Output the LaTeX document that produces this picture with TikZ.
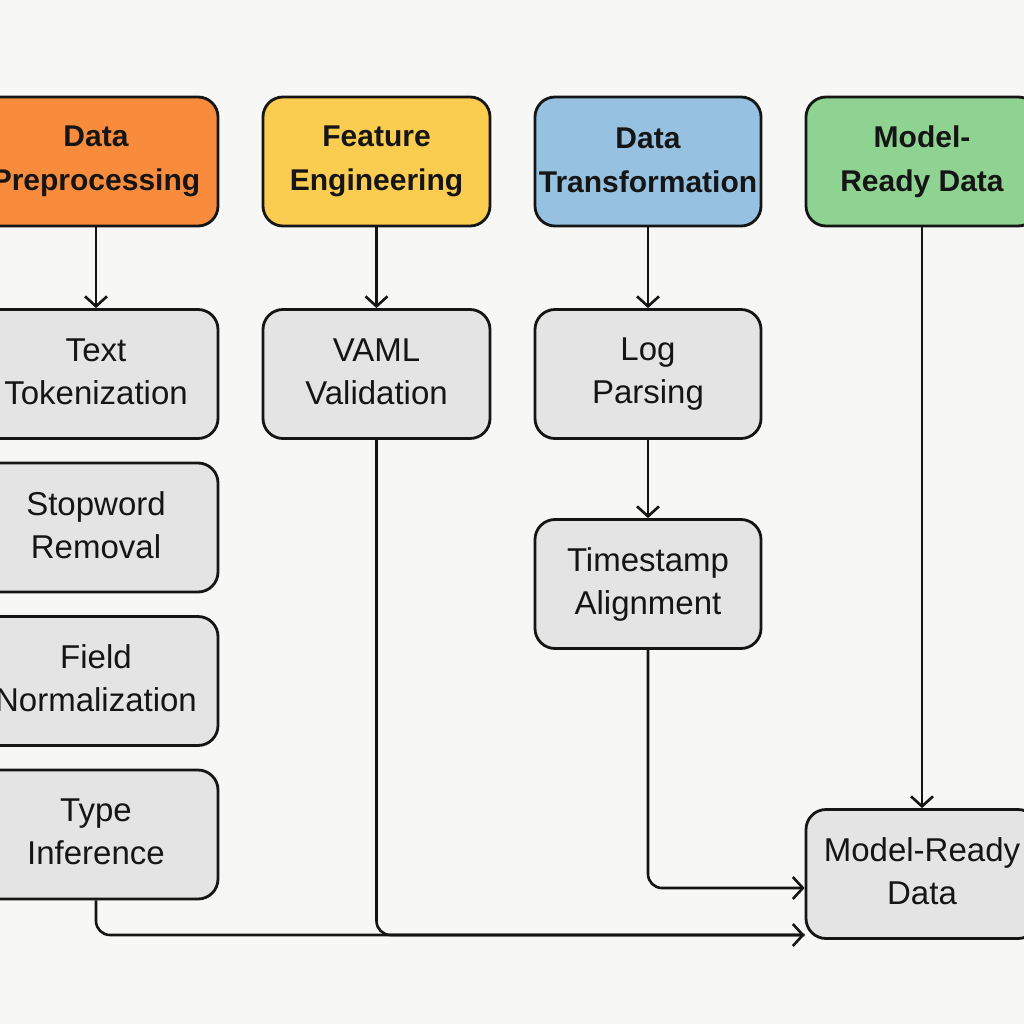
\documentclass[tikz,border=0pt]{standalone}
\usepackage{fontspec}
\setmainfont{Liberation Sans}
\usetikzlibrary{arrows.meta}
\definecolor{bgc}{HTML}{F7F7F5}
\definecolor{orangec}{HTML}{F98C3C}
\definecolor{yellowc}{HTML}{FACD50}
\definecolor{bluec}{HTML}{96C1E1}
\definecolor{greenc}{HTML}{8ED391}
\definecolor{grayc}{HTML}{E4E4E4}
\definecolor{inkc}{HTML}{151515}
\tikzset{
  box/.style={draw=inkc, line width=2.8pt, rounded corners=20pt, align=center,
    text=inkc, minimum height=129pt, inner sep=0pt},
  hdr/.style={box, font=\fontsize{30}{44}\selectfont\bfseries,
    execute at begin node=\rule{0pt}{41pt},
    execute at end node=\rule[-3pt]{0pt}{0pt}},
  sub/.style={box, fill=grayc, font=\fontsize{33}{43}\selectfont,
    execute at begin node=\rule{0pt}{39pt},
    execute at end node=\rule[-5pt]{0pt}{0pt}},
  conn/.style={draw=inkc, line width=2.6pt, rounded corners=14pt},
  arr/.style={conn, -{Straight Barb[length=10pt,width=22pt,line width=2.6pt]}}
}
\begin{document}
\begin{tikzpicture}[x=1pt,y=-1pt]
\useasboundingbox (0,0) rectangle (1024,1024);
\fill[bgc] (0,0) rectangle (1024,1024);
\clip (0,0) rectangle (1024,1024);
% headers
\node[hdr, fill=orangec, minimum width=244pt] (pre) at (96,161.5) {Data\\Preprocessing};
\node[hdr, fill=yellowc, minimum width=227pt] (fe) at (376.5,161.5) {Feature\\Engineering};
\node[hdr, fill=bluec, minimum width=226pt] (dt) at (648,161.5) {Data\\Transformation};
\node[hdr, fill=greenc, minimum width=232pt] (mr) at (922,161.5) {Model-\\Ready Data};
% column 1
\node[sub, minimum width=244pt] (tok) at (96,374) {Text\\Tokenization};
\node[sub, minimum width=244pt] (stop) at (96,527.5) {Stopword\\Removal};
\node[sub, minimum width=244pt] (field) at (96,681) {Field\\Normalization};
\node[sub, minimum width=244pt] (type) at (96,834.5) {Type\\Inference};
% column 2
\node[sub, minimum width=227pt] (vaml) at (376.5,374) {VAML\\Validation};
% column 3
\node[sub, minimum width=226pt] (log) at (648,374) {Log\\Parsing};
\node[sub, minimum width=226pt] (ts) at (648,584) {Timestamp\\Alignment};
% output
\node[sub, minimum width=232pt] (out) at (922,874) {Model-Ready\\Data};
% connectors
\draw[arr] (pre.south) -- (tok.north);
\draw[arr] (fe.south) -- (vaml.north);
\draw[arr] (dt.south) -- (log.north);
\draw[arr] (log.south) -- (ts.north);
\draw[arr] (mr.south) -- (out.north);
\draw[arr] (ts.south) |- ([yshift=-14pt]out.west);
\draw[conn] (vaml.south) |- ([yshift=-61pt]out.west);
\draw[arr] (type.south) |- ([yshift=-61pt]out.west);
\end{tikzpicture}
\end{document}
